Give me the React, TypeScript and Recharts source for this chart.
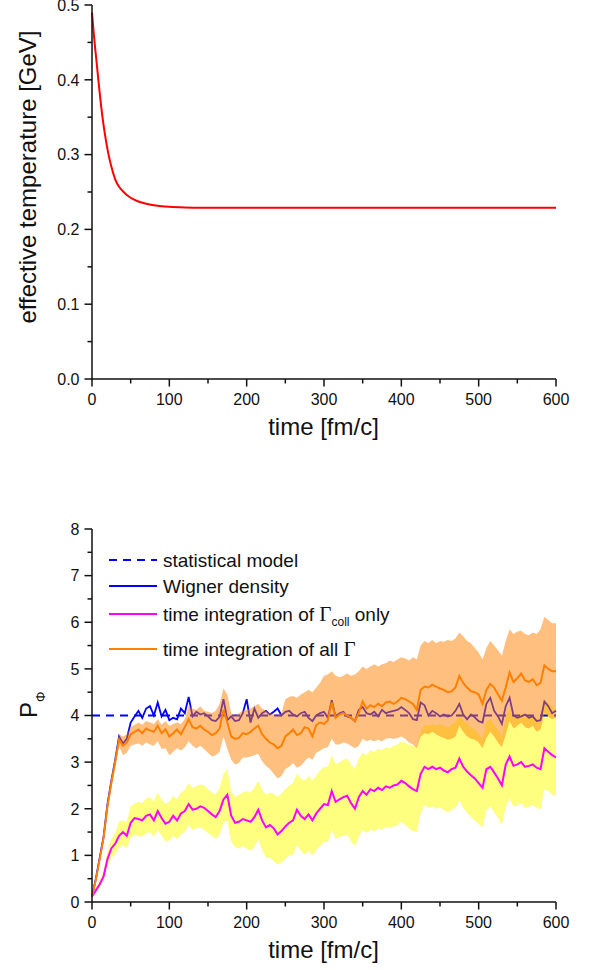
import React from 'react';
import { ComposedChart, Line, Area, XAxis, YAxis, Legend } from 'recharts';

// ---------- Top panel: effective temperature ----------
const TEMP_TIME = [0, 2, 4, 6, 8, 10, 12, 15, 18, 21, 25, 30, 35, 40, 45, 50, 60, 70, 80, 90, 100, 120, 150, 200, 250, 300, 350, 400, 450, 500, 550, 600];
const TEMP_VALUES = [0.49, 0.465, 0.443, 0.423, 0.402, 0.382, 0.363, 0.339, 0.319, 0.302, 0.284, 0.267, 0.257, 0.251, 0.246, 0.2423, 0.2373, 0.2343, 0.2323, 0.231, 0.2302, 0.2294, 0.229, 0.2288, 0.2288, 0.2288, 0.2288, 0.2288, 0.2288, 0.2288, 0.2288, 0.2288];

// ---------- Bottom panel: P_Phi ----------
const TIME_P = [
  0, 5, 10, 15, 20, 25, 30, 35, 40, 45,
  50, 55, 60, 65, 70, 75, 80, 85, 90, 95,
  100, 105, 110, 115, 120, 125, 130, 135, 140, 145,
  150, 155, 160, 165, 170, 175, 180, 185, 190, 195,
  200, 205, 210, 215, 220, 225, 230, 235, 240, 245,
  250, 255, 260, 265, 270, 275, 280, 285, 290, 295,
  300, 305, 310, 315, 320, 325, 330, 335, 340, 345,
  350, 355, 360, 365, 370, 375, 380, 385, 390, 395,
  400, 405, 410, 415, 420, 425, 430, 435, 440, 445,
  450, 455, 460, 465, 470, 475, 480, 485, 490, 495,
  500, 505, 510, 515, 520, 525, 530, 535, 540, 545,
  550, 555, 560, 565, 570, 575, 580, 585, 590, 595,
  600,
];

const STAT_MODEL = 4;

const WIGNER = [
  0.12, 0.5, 0.95, 1.4, 2.1, 2.6, 3.05, 3.55, 3.4, 3.5,
  3.85, 3.98, 4.1, 3.95, 4.15, 4.2, 4.0, 4.28, 3.98, 4.12,
  3.9, 3.95, 3.92, 4.15, 4.05, 4.4, 3.98, 4.08, 4.02, 4.05,
  3.98, 3.9, 3.88, 3.97, 4.35, 3.9, 3.98, 3.88, 3.9, 4.05,
  4.35, 3.85, 4.15, 3.95, 4.05, 4.1, 4.02, 4.08, 4.15, 4.0,
  4.08, 4.1, 4.02, 3.98, 4.05, 4.08, 3.95, 3.88, 4.0, 4.05,
  4.08, 3.95, 4.33, 3.98, 4.05, 4.08, 3.98, 3.95, 3.88, 4.12,
  4.18, 4.05, 4.02, 4.08, 3.98, 4.12, 4.05, 4.08, 4.1, 4.12,
  4.18, 4.12, 4.05, 3.92, 3.9, 4.28, 4.22, 4.0, 4.1, 4.05,
  3.98, 4.02, 3.98, 4.0, 4.1, 4.25, 4.02, 3.92, 4.02, 3.96,
  3.88, 3.85, 4.25, 4.38, 4.1, 3.98, 3.82, 4.2, 4.38, 4.0,
  3.95, 3.98, 4.02, 3.95, 3.98, 3.88, 3.9, 4.3, 4.2, 4.05,
  4.1,
];

const ALL_GAMMA = [
  0.12, 0.48, 0.92, 1.38, 2.05, 2.55, 3.0, 3.48, 3.35, 3.42,
  3.6, 3.65, 3.7, 3.62, 3.72, 3.68, 3.65, 3.78, 3.62, 3.7,
  3.55, 3.62, 3.7, 3.6, 3.75, 3.92, 3.75, 3.72, 3.78, 3.7,
  3.65, 3.58, 3.62, 3.72, 4.12, 3.85, 3.55, 3.5, 3.52, 3.62,
  3.6, 3.65, 3.72, 3.78, 3.6, 3.5, 3.42, 3.38, 3.3, 3.35,
  3.55, 3.62, 3.7, 3.58, 3.62, 3.75, 3.72, 3.55, 3.8, 3.85,
  3.82, 3.9, 4.28, 3.95, 4.02, 4.05, 4.0, 3.95, 3.88, 4.05,
  4.3, 4.15, 4.22, 4.18, 4.25, 4.2, 4.28, 4.3, 4.25, 4.3,
  4.38, 4.35, 4.3, 4.25, 4.12, 4.55, 4.62, 4.6, 4.66, 4.62,
  4.58, 4.55, 4.5, 4.52, 4.6, 4.85, 4.7, 4.6, 4.52, 4.5,
  4.45, 4.25, 4.55, 4.68, 4.6, 4.45, 4.32, 4.6, 4.92, 4.72,
  4.8, 4.9, 4.75, 4.72, 4.78, 4.65, 4.7, 5.08, 5.0, 4.95,
  4.95,
];

const ALL_GAMMA_HIGH = [
  0.14, 0.52, 0.98, 1.45, 2.15, 2.68, 3.12, 3.6, 3.55, 3.6,
  3.75, 3.8, 3.85, 3.8, 3.88, 3.85, 3.82, 3.92, 3.8, 3.88,
  3.78, 3.82, 3.85, 3.82, 3.92, 4.2, 4.15, 4.12, 4.2, 4.1,
  4.08, 4.05, 4.1, 4.25, 4.58, 4.45, 4.05, 4.0, 4.05, 4.1,
  4.12, 4.15, 4.2, 4.25, 4.15, 4.1, 4.05, 4.02, 4.0, 4.05,
  4.35, 4.4, 4.42, 4.38, 4.45, 4.5, 4.55, 4.5, 4.6, 4.7,
  4.85, 4.88, 4.95, 4.85, 4.82, 4.85, 4.9, 4.85, 4.88, 4.95,
  5.05, 5.0, 5.05, 5.1, 5.05, 5.1, 5.12, 5.18, 5.15, 5.2,
  5.25, 5.22, 5.18, 5.25, 5.2, 5.5, 5.6, 5.55, 5.62, 5.55,
  5.6, 5.58, 5.62, 5.6, 5.65, 5.78, 5.7, 5.6, 5.55, 5.45,
  5.35, 5.2, 5.45, 5.6, 5.5, 5.4, 5.28, 5.6, 5.85, 5.75,
  5.8, 5.82, 5.75, 5.72, 5.78, 5.75, 5.85, 6.12, 6.05, 5.98,
  5.98,
];

const ALL_GAMMA_LOW = [
  0.1, 0.45, 0.88, 1.32, 1.95, 2.45, 2.9, 3.35, 3.15, 3.2,
  3.35, 3.38, 3.4, 3.35, 3.42, 3.38, 3.35, 3.45, 3.28, 3.3,
  3.15, 3.22, 3.3, 3.25, 3.32, 3.45, 3.35, 3.3, 3.35, 3.28,
  3.2, 3.12, 3.15, 3.22, 3.55, 3.28, 3.05, 2.95, 2.98, 3.1,
  3.1, 3.12, 3.15, 3.18, 3.02, 2.92, 2.85, 2.75, 2.65, 2.7,
  2.85, 2.9, 2.98, 2.88, 2.92, 3.02, 3.1, 3.05, 3.2, 3.25,
  3.3, 3.32, 3.5, 3.38, 3.38, 3.42, 3.4, 3.35, 3.3, 3.35,
  3.5, 3.45, 3.48, 3.45, 3.48, 3.45, 3.5, 3.52, 3.5, 3.52,
  3.55, 3.5, 3.42, 3.38, 3.3, 3.55, 3.62, 3.6, 3.65, 3.6,
  3.55, 3.52, 3.48, 3.5, 3.55, 3.78, 3.65, 3.55, 3.5, 3.48,
  3.42, 3.3, 3.52, 3.65, 3.55, 3.42, 3.32, 3.6, 3.88, 3.72,
  3.78, 3.85, 3.75, 3.72, 3.78, 3.65, 3.7, 4.05, 3.98, 3.92,
  3.95,
];

const COLL_ONLY = [
  0.12, 0.25, 0.38, 0.55, 0.92, 1.15, 1.25, 1.42, 1.5, 1.42,
  1.7, 1.8, 1.78, 1.75, 1.85, 1.88, 1.75, 1.95, 1.8, 1.68,
  1.72, 1.85, 1.75, 1.9, 1.95, 2.1, 1.98, 2.0, 2.05, 2.02,
  1.95, 1.88, 1.82, 1.95, 2.2, 2.3, 1.85, 1.7, 1.72, 1.78,
  1.75, 1.72, 1.82, 1.98, 1.75, 1.6, 1.65, 1.58, 1.45, 1.52,
  1.62, 1.7, 1.75, 1.98, 1.85, 1.78, 1.88, 1.75, 1.9, 2.0,
  2.1, 2.08, 2.38, 2.15, 2.2, 2.25, 2.28, 2.12, 2.0, 2.25,
  2.38, 2.3, 2.42, 2.38, 2.45, 2.4, 2.48, 2.45, 2.5, 2.52,
  2.6, 2.55, 2.48, 2.42, 2.38, 2.75, 2.9, 2.85, 2.9, 2.85,
  2.88, 2.82, 2.78, 2.85, 2.88, 3.08, 2.9, 2.8, 2.72, 2.65,
  2.55, 2.45, 2.85, 2.9, 2.78, 2.65, 2.5, 2.95, 3.12, 2.92,
  2.95, 3.0, 2.9, 2.92, 2.95, 2.88, 2.85, 3.3, 3.22, 3.15,
  3.1,
];

const COLL_HIGH = [
  0.14, 0.3, 0.47, 0.68, 1.08, 1.35, 1.48, 1.72, 1.75, 1.72,
  2.05, 2.12, 2.15, 2.12, 2.22, 2.25, 2.15, 2.35, 2.2, 2.1,
  2.15, 2.28, 2.2, 2.35, 2.4, 2.55, 2.45, 2.48, 2.52, 2.5,
  2.42, 2.35, 2.3, 2.45, 2.75, 2.85, 2.38, 2.25, 2.3, 2.35,
  2.38, 2.35, 2.45, 2.6, 2.4, 2.3, 2.35, 2.32, 2.25, 2.32,
  2.42, 2.5, 2.55, 2.75, 2.65, 2.6, 2.7, 2.6, 2.72, 2.82,
  2.9, 2.9, 3.15, 2.95, 3.0, 3.05, 3.08, 2.95, 2.85, 3.08,
  3.2, 3.15, 3.25, 3.22, 3.28, 3.25, 3.32, 3.3, 3.35, 3.38,
  3.45, 3.42, 3.38, 3.35, 3.32, 3.65, 3.8, 3.78, 3.82, 3.78,
  3.82, 3.78, 3.75, 3.8, 3.85, 4.05, 3.9, 3.82, 3.75, 3.7,
  3.6, 3.5, 3.85, 3.92, 3.8, 3.7, 3.55, 3.95, 4.15, 3.98,
  4.0, 4.05, 3.95, 3.98, 4.0, 3.95, 3.92, 4.35, 4.28, 4.2,
  4.15,
];

const COLL_LOW = [
  0.1, 0.2, 0.3, 0.45, 0.75, 0.95, 1.02, 1.18, 1.22, 1.15,
  1.38, 1.45, 1.42, 1.4, 1.48, 1.5, 1.4, 1.55, 1.42, 1.3,
  1.32, 1.42, 1.35, 1.45, 1.5, 1.65, 1.55, 1.58, 1.6, 1.55,
  1.48, 1.42, 1.35, 1.45, 1.7, 1.75, 1.3, 1.18, 1.15, 1.2,
  1.15, 1.1, 1.18, 1.35, 1.12, 0.95, 0.95, 0.88, 0.8, 0.85,
  0.92, 1.0, 1.02, 1.22, 1.1, 1.02, 1.1, 1.0, 1.12, 1.2,
  1.3, 1.28, 1.55, 1.35, 1.4, 1.42, 1.45, 1.3, 1.2, 1.4,
  1.55, 1.48, 1.55, 1.52, 1.58, 1.55, 1.62, 1.6, 1.62, 1.65,
  1.72, 1.65, 1.58, 1.52, 1.5, 1.9, 2.08, 2.02, 2.05, 2.0,
  2.02, 1.98, 1.92, 1.98, 2.02, 2.18, 2.02, 1.92, 1.82, 1.75,
  1.68, 1.6, 1.98, 2.05, 1.92, 1.8, 1.65, 2.05, 2.22, 2.05,
  2.08, 2.12, 2.02, 2.05, 2.08, 2.02, 1.98, 2.42, 2.38, 2.3,
  2.28,
];

// ---------- ticks ----------
const X_TICKS = [0, 50, 100, 150, 200, 250, 300, 350, 400, 450, 500, 550, 600];
const TEMP_TICKS = [0, 0.05, 0.1, 0.15, 0.2, 0.25, 0.3, 0.35, 0.4, 0.45, 0.5];
const P_TICKS = [0, 0.5, 1, 1.5, 2, 2.5, 3, 3.5, 4, 4.5, 5, 5.5, 6, 6.5, 7, 7.5, 8];

const TEMP_DATA = TEMP_TIME.map((t, i) => ({ t, temp: TEMP_VALUES[i] }));
const P_DATA = TIME_P.map((t, i) => ({
  t,
  stat: STAT_MODEL,
  wigner: WIGNER[i],
  all: ALL_GAMMA[i],
  allBand: [ALL_GAMMA_LOW[i], ALL_GAMMA_HIGH[i]],
  coll: COLL_ONLY[i],
  collBand: [COLL_LOW[i], COLL_HIGH[i]],
}));

const FONT = '"Liberation Sans", Arial, Helvetica, sans-serif';
const SERIF = '"Liberation Serif", "Times New Roman", Times, serif';
const AX = '#111';
const AXW = 1.5;

const isMajor = (v: number, step: number) => Math.abs(v / step - Math.round(v / step)) < 1e-6;

function makeTick(side: string, step: number, fmt: (v: number) => string) {
  return (props: any) => {
    const { x, y, payload } = props;
    const v = payload.value as number;
    const major = isMajor(v, step);
    const len = major ? 7.5 : 4.5;
    if (side === 'bottom') {
      return (
        <g>
          <line x1={x} x2={x} y1={y} y2={y + len} stroke={AX} strokeWidth={AXW} />
          {major && (
            <text x={x} y={y + 26} textAnchor="middle" fontSize={16} fontFamily={FONT} fill="#111">
              {fmt(v)}
            </text>
          )}
        </g>
      );
    }
    if (side === 'left') {
      return (
        <g>
          <line x1={x - len} x2={x} y1={y} y2={y} stroke={AX} strokeWidth={AXW} />
          {major && (
            <text x={x - 12.5} y={y} dy="0.36em" textAnchor="end" fontSize={16} fontFamily={FONT} fill="#111">
              {fmt(v)}
            </text>
          )}
        </g>
      );
    }
    if (side === 'top') {
      return <line x1={x} x2={x} y1={y} y2={y + len} stroke={AX} strokeWidth={AXW} />;
    }
    return <line x1={x - len} x2={x} y1={y} y2={y} stroke={AX} strokeWidth={AXW} />;
  };
}

const fmtInt = (v: number) => String(v);
const fmtOne = (v: number) => v.toFixed(1);

const axisLine = { stroke: AX, strokeWidth: AXW };

const XTitle = (yPos: number) => () => (
  <text x={323.5} y={yPos} textAnchor="middle" fontSize={24} fontFamily={FONT} fill="#111">
    time [fm/c]
  </text>
);

const TempYTitle = () => (
  <text x={36} y={177} transform="rotate(-90 36 177)" textAnchor="middle" fontSize={24} fontFamily={FONT} fill="#111">
    effective temperature [GeV]
  </text>
);

const PYTitle = () => (
  <text x={37} y={238} transform="rotate(-90 37 238)" fontSize={24} fontFamily={FONT} fill="#111">
    P<tspan fontSize={13} dy={8}>Φ</tspan>
  </text>
);

const LegendBox = () => (
  <svg width={590} height={200} style={{ display: 'block' }}>
    <g fontFamily={FONT} fontSize={19} fill="#111">
      <line x1={109} x2={157} y1={80} y2={80} stroke="#0000ff" strokeWidth={1.8} strokeDasharray="8 6" />
      <text x={163} y={87}>statistical model</text>
      <line x1={109} x2={157} y1={106} y2={106} stroke="#0000ff" strokeWidth={1.8} />
      <text x={163} y={113}>Wigner density</text>
      <line x1={109} x2={157} y1={134} y2={134} stroke="#ff00ff" strokeWidth={1.8} />
      <text x={163} y={141}>
        time integration of{' '}
        <tspan fontFamily={SERIF} fontSize={21}>Γ</tspan>
        <tspan fontSize={12} dy={5}>coll</tspan>
        <tspan dy={-5}> only</tspan>
      </text>
      <line x1={109} x2={157} y1={169} y2={169} stroke="#ff8000" strokeWidth={1.8} />
      <text x={163} y={176}>
        time integration of all <tspan fontFamily={SERIF} fontSize={21}>Γ</tspan>
      </text>
    </g>
  </svg>
);

export default function App() {
  return (
    <div style={{ position: 'absolute', left: 0, top: 0, width: 590, height: 970, background: '#fff' }}>
      <div style={{ position: 'absolute', left: 0, top: 0 }}>
        <ComposedChart width={590} height={450} data={TEMP_DATA} margin={{ top: 5, right: 34, bottom: 11, left: 0 }}>
          <XAxis
            xAxisId="b"
            dataKey="t"
            type="number"
            domain={[0, 600]}
            ticks={X_TICKS}
            interval={0}
            tickSize={0}
            tickMargin={0}
            tickLine={false}
            axisLine={axisLine}
            height={60}
            tick={makeTick('bottom', 100, fmtInt)}
            label={XTitle(435)}
          />
          <XAxis
            xAxisId="top"
            orientation="top"
            type="number"
            domain={[0, 600]}
            ticks={X_TICKS}
            interval={0}
            mirror
            height={0}
            tickSize={0}
            tickMargin={0}
            tickLine={false}
            axisLine={axisLine}
            tick={makeTick('top', 100, fmtInt)}
          />
          <YAxis
            yAxisId="l"
            type="number"
            domain={[0, 0.5]}
            ticks={TEMP_TICKS}
            interval={0}
            width={92}
            tickSize={0}
            tickMargin={0}
            tickLine={false}
            axisLine={axisLine}
            tick={makeTick('left', 0.1, fmtOne)}
            label={TempYTitle}
          />
          <YAxis
            yAxisId="r"
            orientation="right"
            type="number"
            domain={[0, 0.5]}
            ticks={TEMP_TICKS}
            interval={0}
            mirror
            width={0}
            tickSize={0}
            tickMargin={0}
            tickLine={false}
            axisLine={axisLine}
            tick={makeTick('right', 0.1, fmtOne)}
          />
          <Line
            xAxisId="b"
            yAxisId="l"
            dataKey="temp"
            type="monotone"
            stroke="#ff0000"
            strokeWidth={2}
            dot={false}
            activeDot={false}
            isAnimationActive={false}
          />
        </ComposedChart>
      </div>
      <div style={{ position: 'absolute', left: 0, top: 480 }}>
        <ComposedChart width={590} height={490} data={P_DATA} margin={{ top: 49, right: 34, bottom: 8, left: 0 }}>
          <XAxis
            xAxisId="b"
            dataKey="t"
            type="number"
            domain={[0, 600]}
            ticks={X_TICKS}
            interval={0}
            tickSize={0}
            tickMargin={0}
            tickLine={false}
            axisLine={axisLine}
            height={60}
            tick={makeTick('bottom', 100, fmtInt)}
            label={XTitle(478)}
          />
          <XAxis
            xAxisId="top"
            orientation="top"
            type="number"
            domain={[0, 600]}
            ticks={X_TICKS}
            interval={0}
            mirror
            height={0}
            tickSize={0}
            tickMargin={0}
            tickLine={false}
            axisLine={axisLine}
            tick={makeTick('top', 100, fmtInt)}
          />
          <YAxis
            yAxisId="l"
            type="number"
            domain={[0, 8]}
            ticks={P_TICKS}
            interval={0}
            width={92}
            tickSize={0}
            tickMargin={0}
            tickLine={false}
            axisLine={axisLine}
            tick={makeTick('left', 1, fmtInt)}
            label={PYTitle}
          />
          <YAxis
            yAxisId="r"
            orientation="right"
            type="number"
            domain={[0, 8]}
            ticks={P_TICKS}
            interval={0}
            mirror
            width={0}
            tickSize={0}
            tickMargin={0}
            tickLine={false}
            axisLine={axisLine}
            tick={makeTick('right', 1, fmtInt)}
          />
          <Legend
            layout="vertical"
            align="center"
            verticalAlign="middle"
            wrapperStyle={{ left: 0, top: 0, width: 590, height: 200 }}
            content={LegendBox}
          />
          <Area
            xAxisId="b"
            yAxisId="l"
            dataKey="collBand"
            type="linear"
            stroke="none"
            fill="#ffff00"
            fillOpacity={0.5}
            isAnimationActive={false}
            activeDot={false}
            zIndex={100}
          />
          <Line
            xAxisId="b"
            yAxisId="l"
            dataKey="stat"
            type="linear"
            stroke="#0000ff"
            strokeWidth={1.8}
            strokeDasharray="8 6"
            dot={false}
            activeDot={false}
            isAnimationActive={false}
            zIndex={110}
          />
          <Line
            xAxisId="b"
            yAxisId="l"
            dataKey="wigner"
            type="linear"
            stroke="#0000ff"
            strokeWidth={1.8}
            dot={false}
            activeDot={false}
            isAnimationActive={false}
            zIndex={120}
          />
          <Area
            xAxisId="b"
            yAxisId="l"
            dataKey="allBand"
            type="linear"
            stroke="none"
            fill="#ff8000"
            fillOpacity={0.5}
            isAnimationActive={false}
            activeDot={false}
            zIndex={130}
          />
          <Line
            xAxisId="b"
            yAxisId="l"
            dataKey="coll"
            type="linear"
            stroke="#ff00ff"
            strokeWidth={2}
            dot={false}
            activeDot={false}
            isAnimationActive={false}
            zIndex={140}
          />
          <Line
            xAxisId="b"
            yAxisId="l"
            dataKey="all"
            type="linear"
            stroke="#ff8000"
            strokeWidth={2}
            dot={false}
            activeDot={false}
            isAnimationActive={false}
            zIndex={150}
          />
        </ComposedChart>
      </div>
    </div>
  );
}
